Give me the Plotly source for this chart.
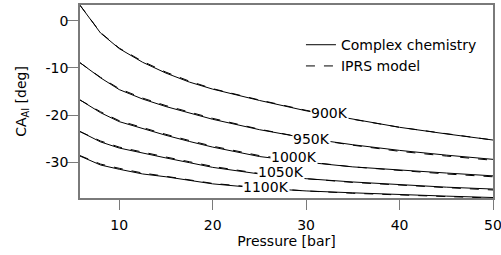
import plotly.graph_objects as go

pressure = [5.8, 8, 10, 12.5, 15, 17.5, 20, 25, 30, 35, 40, 45, 50]

temps = ["900K", "950K", "1000K", "1050K", "1100K"]

complex_900 = [3.3, -2.6, -5.9, -8.8, -11.1, -13.0, -14.5, -16.9, -19.1, -20.9, -22.6, -24.0, -25.3]
complex_950 = [-8.9, -12.1, -14.6, -16.6, -18.2, -19.6, -20.9, -23.1, -24.9, -26.3, -27.5, -28.5, -29.4]
complex_1000 = [-16.8, -19.5, -21.4, -22.9, -24.3, -25.6, -26.8, -28.8, -30.0, -31.0, -31.7, -32.3, -32.9]
complex_1050 = [-23.5, -25.7, -27.0, -28.1, -29.1, -30.1, -31.1, -32.5, -33.5, -34.2, -34.8, -35.3, -35.7]
complex_1100 = [-28.7, -30.6, -31.5, -32.5, -33.1, -33.8, -34.6, -35.5, -36.1, -36.5, -36.9, -37.2, -37.5]

iprs_900 = [3.3, -2.5, -5.8, -8.6, -10.9, -12.8, -14.4, -16.8, -19.0, -20.9, -22.6, -24.0, -25.3]
iprs_950 = [-8.9, -12.0, -14.4, -16.4, -18.0, -19.4, -20.7, -23.0, -24.9, -26.4, -27.7, -28.7, -29.6]
iprs_1000 = [-16.8, -19.3, -21.2, -22.7, -24.1, -25.4, -26.6, -28.6, -29.9, -31.0, -31.8, -32.5, -33.1]
iprs_1050 = [-23.5, -25.5, -26.8, -27.9, -28.9, -29.9, -30.9, -32.4, -33.5, -34.3, -34.9, -35.4, -35.9]
iprs_1100 = [-28.6, -30.4, -31.3, -32.3, -33.0, -33.7, -34.5, -35.4, -36.1, -36.6, -37.0, -37.3, -37.6]

complex_series = [complex_900, complex_950, complex_1000, complex_1050, complex_1100]
iprs_series = [iprs_900, iprs_950, iprs_1000, iprs_1050, iprs_1100]

x_tick_vals = [10, 20, 30, 40, 50]
x_tick_text = ["10", "20", "30", "40", "50"]
y_tick_vals = [0, -10, -20, -30]
y_tick_text = ["0", "-10", "-20", "-30"]

# label placement (pressure, value) for temperature labels
label_pos = [(32.5, -19.6), (30.6, -25.1), (28.7, -28.9), (27.3, -32.0), (25.7, -35.3)]

FONT = "DejaVu Sans, Verdana, sans-serif"
AXC = "#7a7a7a"

fig = go.Figure()
for i, (c, d) in enumerate(zip(complex_series, iprs_series)):
    fig.add_trace(go.Scatter(x=pressure, y=d, mode="lines",
                             line=dict(color="black", width=1, dash="dash"),
                             name="IPRS model", legendgroup="iprs", showlegend=(i == 0)))
    fig.add_trace(go.Scatter(x=pressure, y=c, mode="lines",
                             line=dict(color="black", width=1),
                             name="Complex chemistry", legendgroup="cc", showlegend=(i == 0)))

for t, (px, py) in zip(temps, label_pos):
    fig.add_annotation(x=px, y=py, text=t, showarrow=False, bgcolor="white",
                       borderpad=0, font=dict(family=FONT, size=14, color="black"))

fig.update_layout(
    width=501, height=255,
    margin=dict(l=80, r=8, t=5, b=57, autoexpand=False),
    paper_bgcolor="white", plot_bgcolor="white",
    font=dict(family=FONT, size=14, color="black"),
    showlegend=True,
    legend=dict(x=0.535, y=0.875, xanchor="left", yanchor="top", bgcolor="rgba(0,0,0,0)",
                traceorder="reversed", font=dict(size=14), tracegroupgap=0, itemwidth=30),
    xaxis=dict(range=[5.8, 50], tickvals=x_tick_vals, ticktext=x_tick_text,
               ticks="outside", ticklen=10, tickcolor=AXC, tickwidth=1, automargin=False,
               ticklabeloverflow="allow", ticklabelstandoff=3,
               showline=True, linecolor=AXC, linewidth=1.5, mirror=True,
               showgrid=False, zeroline=False,
               title=dict(text="Pressure [bar]", standoff=0, font=dict(size=14))),
    yaxis=dict(range=[-37.6, 3.35], tickvals=y_tick_vals, ticktext=y_tick_text,
               ticks="outside", ticklen=11, tickcolor=AXC, tickwidth=1, automargin=False,
               ticklabelstandoff=-4,
               showline=True, linecolor=AXC, linewidth=1.5, mirror=True,
               showgrid=False, zeroline=False,
               title=dict(text="CA<sub>AI</sub> [deg]", standoff=16, font=dict(size=14))),
)

fig.write_html("out.html", config={"displayModeBar": False},
               post_script="document.body.style.margin='0';document.body.style.overflow='hidden';")
